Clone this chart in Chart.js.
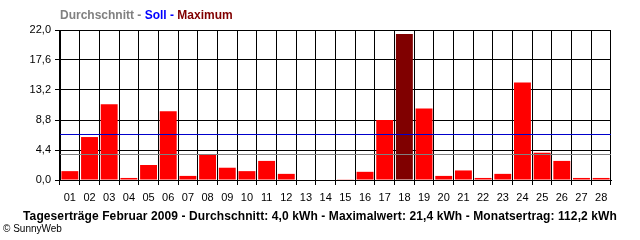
<!DOCTYPE html>
<html>
<head>
<meta charset="utf-8">
<script src="https://cdn.jsdelivr.net/npm/chart.js@4/dist/chart.umd.min.js"></script>
<style>
  body { margin:0; background:#fff; }
  #wrap { position:relative; width:640px; height:240px; overflow:hidden; font-family:"Liberation Sans", Arial, sans-serif; }
  #c { position:absolute; left:0; top:0; }
  #head { position:absolute; left:60px; top:8px; font-size:12px; font-weight:bold; white-space:nowrap; }
  #foot { position:absolute; left:0; width:640px; top:209px; text-align:center; font-size:12px; font-weight:bold; white-space:nowrap; letter-spacing:0.1px; }
  #copy { position:absolute; left:3px; top:223px; font-size:10px; white-space:nowrap; }
</style>
</head>
<body>
<div id="wrap">
  <canvas id="c" width="640" height="240"></canvas>
  <div id="head"><span style="color:#808080">Durchschnitt - </span><span style="color:#0000ff">Soll - </span><span style="color:#800000">Maximum</span></div>
  <div id="foot">Tageserträge Februar 2009 - Durchschnitt: 4,0 kWh - Maximalwert: 21,4 kWh - Monatsertrag: 112,2 kWh</div>
  <div id="copy">© SunnyWeb</div>
</div>
<script>
var days = ['01','02','03','04','05','06','07','08','09','10','11','12','13','14','15','16','17','18','19','20','21','22','23','24','25','26','27','28'];
var ertrag = [1.3,6.3,11.1,0.3,2.2,10.1,0.6,3.8,1.8,1.3,2.8,0.9,0,0,0.1,1.2,8.8,21.4,10.5,0.6,1.4,0.3,0.9,14.3,4.0,2.8,0.3,0.3];
var soll = 6.8;
var durchschnitt = 3.8;
var yTicks = ['0,0','4,4','8,8','13,2','17,6','22,0'];

var maxVal = Math.max.apply(null, ertrag);
var colors = ertrag.map(function(v){ return v === maxVal ? '#800000' : '#ff0000'; });

// Soll / Durchschnitt als waagrechte Linien ueber die ganze Breite
var refLines = {
  id: 'refLines',
  afterDatasetsDraw: function(chart){
    var a = chart.chartArea, y = chart.scales.y, c = chart.ctx;
    [[durchschnitt, '#808080'], [soll, '#0000cc']].forEach(function(l){
      var py = Math.round(y.getPixelForValue(l[0])) + 0.5;
      c.save();
      c.strokeStyle = l[1];
      c.lineWidth = 1;
      c.beginPath();
      c.moveTo(a.left, py);
      c.lineTo(a.right, py);
      c.stroke();
      c.restore();
    });
  }
};

var ctx = document.getElementById('c').getContext('2d');
new Chart(ctx, {
  type: 'bar',
  data: {
    labels: days,
    datasets: [{
      label: 'Ertrag',
      data: ertrag,
      backgroundColor: colors,
      barPercentage: 0.86,
      categoryPercentage: 1.0
    }]
  },
  plugins: [refLines],
  options: {
    responsive: false,
    animation: false,
    layout: { padding: { top: 30, right: 29, left: 0, bottom: 0 } },
    plugins: { legend: { display: false }, tooltip: { enabled: false } },
    scales: {
      x: {
        afterFit: function(s){ s.height = 60; },
        grid: { color: '#000', lineWidth: 1, tickLength: 5, offset: true },
        border: { color: '#000', width: 1 },
        ticks: { color: '#000', font: { family: 'Liberation Sans', size: 11 }, padding: 6, maxRotation: 0, autoSkip: false }
      },
      y: {
        min: 0, max: 22,
        afterFit: function(s){ s.width = 60; },
        afterBuildTicks: function(s){ s.ticks = yTicks.map(function(t, i){ return { value: i * 4.4 }; }); },
        grid: { color: '#000', lineWidth: 1, tickLength: 5 },
        border: { color: '#000', width: 1 },
        ticks: {
          color: '#000', font: { family: 'Liberation Sans', size: 11 }, padding: 4,
          callback: function(v, i){ return yTicks[i]; }
        }
      }
    }
  }
});
</script>
</body>
</html>
